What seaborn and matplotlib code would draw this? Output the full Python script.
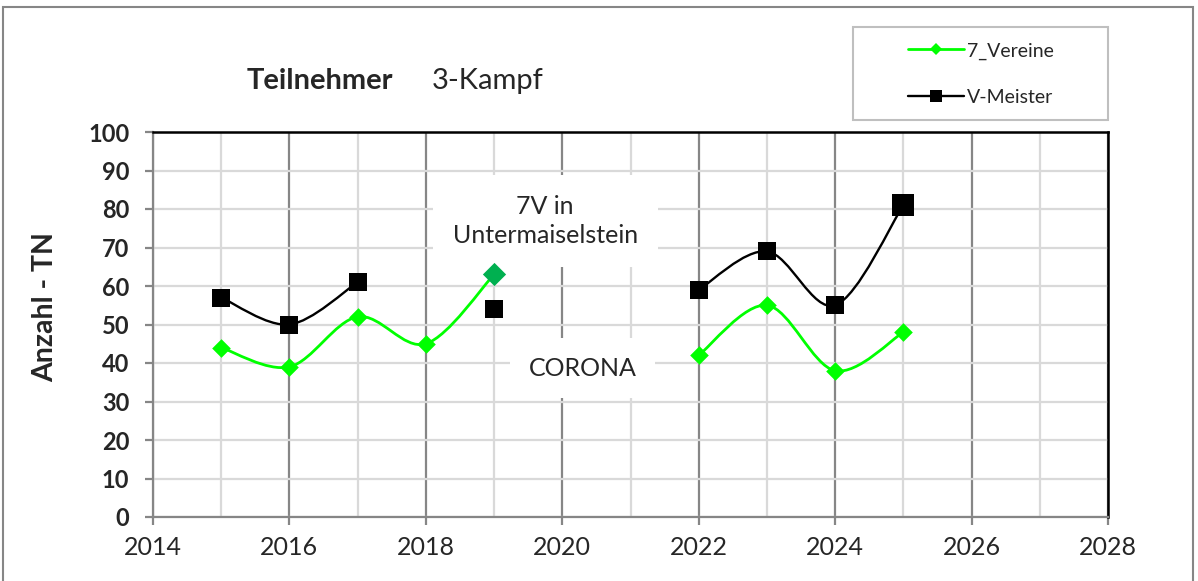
import numpy as np
import pandas as pd
import matplotlib
matplotlib.use("Agg")
import matplotlib.pyplot as plt
from matplotlib.path import Path
from matplotlib.patches import PathPatch, Rectangle
from matplotlib.lines import Line2D
from matplotlib.ticker import MultipleLocator
import seaborn as sns

# Teilnehmer 3-Kampf
years = [2015, 2016, 2017, 2018, 2019, 2020, 2021, 2022, 2023, 2024, 2025]
vereine = [44, 39, 52, 45, 63, np.nan, np.nan, 42, 55, 38, 48]
meister = [57, 50, 61, np.nan, 54, np.nan, np.nan, 59, 69, 55, 81]

# points that are drawn with a different marker in the original
vereine_highlight_year = 2019
meister_highlight_year = 2025

GREEN = "#00ff00"
GREEN_DARK = "#00b050"
GRID_MAJOR = "#868686"
GRID_MINOR = "#d9d9d9"
FONT = ["Lato", "DejaVu Sans"]


def smooth_path(xs, ys):
    """Excel-like smoothed line through the points (Catmull-Rom as cubic Bezier)."""
    pts = np.column_stack([xs, ys]).astype(float)
    verts = [pts[0]]
    codes = [Path.MOVETO]
    for i in range(len(pts) - 1):
        p0 = pts[max(i - 1, 0)]
        p1 = pts[i]
        p2 = pts[i + 1]
        p3 = pts[min(i + 2, len(pts) - 1)]
        verts += [p1 + (p2 - p0) / 6, p2 - (p3 - p1) / 6, p2]
        codes += [Path.CURVE4] * 3
    return Path(verts, codes)


def segments(df, col):
    """Split a series into runs without gaps."""
    mask = df[col].notna()
    group = (mask != mask.shift()).cumsum()
    return [g for _, g in df[mask].groupby(group[mask])]


df = pd.DataFrame({"Jahr": years, "7_Vereine": vereine, "V-Meister": meister})

sns.set_style("white")
plt.rcParams["font.family"] = FONT

fig = plt.figure(figsize=(11.98, 5.81), dpi=100)
ax = fig.add_axes([153 / 1198, 1 - 517 / 581, (1108 - 153) / 1198, (517 - 132) / 581])

# smoothed lines, broken where data is missing
for col, color, lw in [("7_Vereine", GREEN, 2.0), ("V-Meister", "black", 1.7)]:
    for seg in segments(df, col):
        if len(seg) > 1:
            ax.add_patch(PathPatch(smooth_path(seg["Jahr"], seg[col]), facecolor="none",
                                   edgecolor=color, lw=lw, zorder=3, capstyle="round"))

# markers
v_norm = df[df["Jahr"] != vereine_highlight_year]
v_high = df[df["Jahr"] == vereine_highlight_year]
m_norm = df[df["Jahr"] != meister_highlight_year]
m_high = df[df["Jahr"] == meister_highlight_year]

sns.scatterplot(data=v_norm, x="Jahr", y="7_Vereine", marker="D", s=90, color=GREEN,
                edgecolor=GREEN, linewidth=0, ax=ax, zorder=4)
sns.scatterplot(data=v_high, x="Jahr", y="7_Vereine", marker="D", s=140, color=GREEN_DARK,
                edgecolor=GREEN_DARK, linewidth=0, ax=ax, zorder=4)
sns.scatterplot(data=m_norm, x="Jahr", y="V-Meister", marker="s", s=150, color="black",
                edgecolor="black", linewidth=0, ax=ax, zorder=4)
sns.scatterplot(data=m_high, x="Jahr", y="V-Meister", marker="s", s=250, color="black",
                edgecolor="black", linewidth=0, ax=ax, zorder=4)

# axes, ticks and grid
ax.set_xlim(2014, 2028)
ax.set_ylim(0, 100)
ax.xaxis.set_major_locator(MultipleLocator(2))
ax.xaxis.set_minor_locator(MultipleLocator(1))
ax.yaxis.set_major_locator(MultipleLocator(10))
ax.set_xlabel("")
ax.set_ylabel("")
ax.grid(False)
ax.set_axisbelow(True)
ax.grid(which="major", axis="x", color=GRID_MAJOR, lw=1.6, zorder=0)
ax.grid(which="minor", axis="x", color=GRID_MINOR, lw=1.6, zorder=0)
ax.grid(which="major", axis="y", color=GRID_MINOR, lw=1.6, zorder=0)

ax.tick_params(axis="x", which="major", direction="out", length=6, width=1.6,
               color=GRID_MAJOR, labelsize=18, pad=8, bottom=True)
ax.tick_params(axis="x", which="minor", length=0)
ax.tick_params(axis="y", direction="out", length=6, width=1.6, color=GRID_MAJOR,
               labelsize=17, pad=11, left=True)
for lab in ax.get_yticklabels():
    lab.set_fontweight("bold")

for side in ["left", "bottom"]:
    ax.spines[side].set_color(GRID_MAJOR)
    ax.spines[side].set_linewidth(1.6)
for side in ["top", "right"]:
    ax.spines[side].set_color("black")
    ax.spines[side].set_linewidth(1.8)

# annotations
ax.text(2019.75, 76.8, "7V in\nUntermaiselstein", ha="center", va="center", fontsize=18,
        linespacing=1.3, zorder=2,
        bbox=dict(boxstyle="square,pad=0.8", facecolor="white", edgecolor="none"))
ax.text(2020.3, 38.7, "CORONA", ha="center", va="center", fontsize=18, zorder=2,
        bbox=dict(boxstyle="square,pad=0.75", facecolor="white", edgecolor="none"))

# title and axis label
fig.text(247 / 1198, 1 - 81 / 581, "Teilnehmer", fontsize=21, fontweight="bold", va="center")
fig.text(432 / 1198, 1 - 81 / 581, "3-Kampf", fontsize=21, va="center")
fig.text(45 / 1198, 1 - 307 / 581, "Anzahl - TN", fontsize=20.5, fontweight="bold",
         rotation=90, ha="center", va="center")

# legend inside its own box
fig.patches.append(Rectangle((853 / 1198, 1 - 120 / 581), 255 / 1198, 93 / 581,
                             transform=fig.transFigure, facecolor="white",
                             edgecolor="#bfbfbf", lw=1.5, zorder=0))
handles = [
    Line2D([], [], color=GREEN, lw=2.0, marker="D", markersize=6, markeredgewidth=0),
    Line2D([], [], color="black", lw=1.7, marker="s", markersize=9, markeredgewidth=0),
]
fig.legend(handles, ["7_Vereine", "V-Meister"], loc="center",
           bbox_to_anchor=(981 / 1198, 1 - 74 / 581), frameon=False, fontsize=14,
           handlelength=2.9, handletextpad=0.15, labelspacing=1.5)

# outer chart frame
fig.patches.append(Rectangle((3 / 1198, -0.02), 1190 / 1198, 1 - 7 / 581 + 0.02,
                             transform=fig.transFigure, facecolor="none",
                             edgecolor=GRID_MAJOR, lw=1.5, zorder=0))

fig.savefig("out.png", dpi=100)
